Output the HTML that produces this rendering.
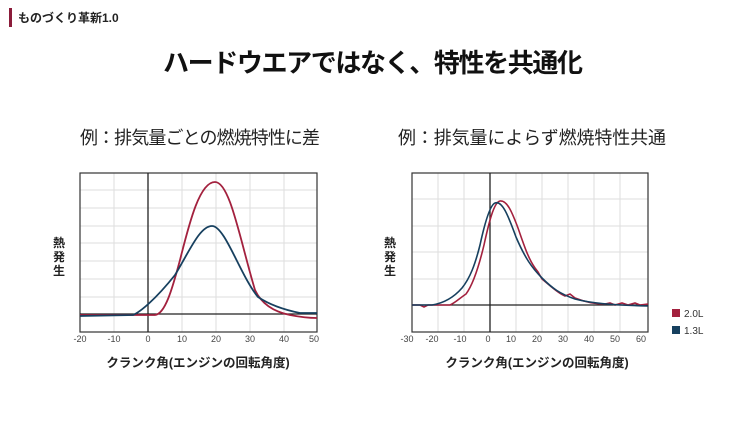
<!DOCTYPE html>
<html><head><meta charset="utf-8"><style>
body{margin:0;background:#fff;width:730px;height:416px;overflow:hidden}
svg text{font-family:"Liberation Sans","Noto Sans CJK JP",sans-serif}
</style></head><body>
<svg width="730" height="416" viewBox="0 0 730 416" xmlns="http://www.w3.org/2000/svg">
<rect x="9" y="8" width="3" height="19" fill="#8b1c3a"/>
<text x="18" y="22" font-size="12" font-weight="bold" fill="#222">ものづくり革新1.0</text>
<text x="373" y="72" font-size="26" font-weight="bold" fill="#111" text-anchor="middle" textLength="420">ハードウエアではなく、特性を共通化</text>
<text x="200" y="144" font-size="18" fill="#222" text-anchor="middle" textLength="240">例：排気量ごとの燃焼特性に差</text>
<text x="532" y="144" font-size="18" fill="#222" text-anchor="middle" textLength="268">例：排気量によらず燃焼特性共通</text>

<!-- left chart -->
<g stroke="#ddd" stroke-width="1">
<line x1="114" y1="173" x2="114" y2="332"/><line x1="182" y1="173" x2="182" y2="332"/><line x1="216" y1="173" x2="216" y2="332"/><line x1="250" y1="173" x2="250" y2="332"/><line x1="284" y1="173" x2="284" y2="332"/>
<line x1="80" y1="190" x2="317" y2="190"/><line x1="80" y1="208" x2="317" y2="208"/><line x1="80" y1="226" x2="317" y2="226"/><line x1="80" y1="243" x2="317" y2="243"/><line x1="80" y1="261" x2="317" y2="261"/><line x1="80" y1="279" x2="317" y2="279"/><line x1="80" y1="297" x2="317" y2="297"/>
</g>
<rect x="80" y="173" width="237" height="159" fill="none" stroke="#333" stroke-width="1.2"/>
<line x1="148" y1="173" x2="148" y2="332" stroke="#222" stroke-width="1.3"/>
<line x1="80" y1="314" x2="317" y2="314" stroke="#222" stroke-width="1.3"/>
<path d="M80,315 L155,315 C165,314 172,290 180,260 C190,220 200,182 215,182 C230,182 240,240 255,290 C262,305 275,312 290,315 C300,317 310,318 317,318" fill="none" stroke="#a3213e" stroke-width="1.8"/>
<path d="M80,316 L133,315 C140,312 155,300 175,275 C190,250 200,226 212,226 C225,226 240,275 258,297 C270,305 285,310 300,313 L317,313" fill="none" stroke="#17405f" stroke-width="1.8"/>
<g font-size="9" fill="#444" text-anchor="middle">
<text x="80" y="342">-20</text><text x="114" y="342">-10</text><text x="148" y="342">0</text><text x="182" y="342">10</text><text x="216" y="342">20</text><text x="250" y="342">30</text><text x="284" y="342">40</text><text x="314" y="342">50</text>
</g>
<text x="198" y="367" font-size="12.5" font-weight="bold" fill="#222" text-anchor="middle">クランク角(エンジンの回転角度)</text>
<g font-size="12" font-weight="bold" fill="#222" text-anchor="middle"><text x="59" y="247">熱</text><text x="59" y="261">発</text><text x="59" y="275">生</text></g>

<!-- right chart -->
<g stroke="#ddd" stroke-width="1">
<line x1="438" y1="173" x2="438" y2="332"/><line x1="464" y1="173" x2="464" y2="332"/><line x1="516" y1="173" x2="516" y2="332"/><line x1="542" y1="173" x2="542" y2="332"/><line x1="568" y1="173" x2="568" y2="332"/><line x1="594" y1="173" x2="594" y2="332"/><line x1="620" y1="173" x2="620" y2="332"/>
<line x1="412" y1="199" x2="648" y2="199"/><line x1="412" y1="226" x2="648" y2="226"/><line x1="412" y1="252" x2="648" y2="252"/><line x1="412" y1="279" x2="648" y2="279"/>
</g>
<rect x="412" y="173" width="236" height="159" fill="none" stroke="#333" stroke-width="1.2"/>
<line x1="490" y1="173" x2="490" y2="332" stroke="#222" stroke-width="1.3"/>
<line x1="412" y1="305" x2="648" y2="305" stroke="#222" stroke-width="1.3"/>
<path d="M412,305 L420,305 L424,307 L428,305 L450,305 C455,303 460,298 466,294 C472,286 478,270 484,245 C489,222 494,202 500,201 C507,200 512,212 518,228 C524,245 528,258 535,268 L538,272 L542,279 L548,284 C555,290 560,294 565,296 L570,294 L575,298 C585,302 595,304 605,304 L610,303 L615,305 L622,303 L628,305 L635,303 L640,305 L648,304" fill="none" stroke="#a3213e" stroke-width="1.6"/>
<path d="M412,305 L432,305 C445,303 455,296 462,288 C470,278 475,265 480,245 C485,222 490,205 495,203 C502,200 508,215 516,237 C525,258 532,268 542,278 C552,288 560,294 575,299 C590,303 610,305 648,306" fill="none" stroke="#17405f" stroke-width="1.6"/>
<g font-size="9" fill="#444" text-anchor="middle">
<text x="407" y="342">-30</text><text x="432" y="342">-20</text><text x="460" y="342">-10</text><text x="488" y="342">0</text><text x="511" y="342">10</text><text x="537" y="342">20</text><text x="563" y="342">30</text><text x="589" y="342">40</text><text x="615" y="342">50</text><text x="641" y="342">60</text>
</g>
<text x="537" y="367" font-size="12.5" font-weight="bold" fill="#222" text-anchor="middle">クランク角(エンジンの回転角度)</text>
<g font-size="12" font-weight="bold" fill="#222" text-anchor="middle"><text x="390" y="247">熱</text><text x="390" y="261">発</text><text x="390" y="275">生</text></g>

<rect x="672" y="309" width="8" height="8" fill="#a3213e"/>
<text x="684" y="317" font-size="10" fill="#333">2.0L</text>
<rect x="672" y="326" width="8" height="8" fill="#17405f"/>
<text x="684" y="334" font-size="10" fill="#333">1.3L</text>
</svg>
</body></html>
